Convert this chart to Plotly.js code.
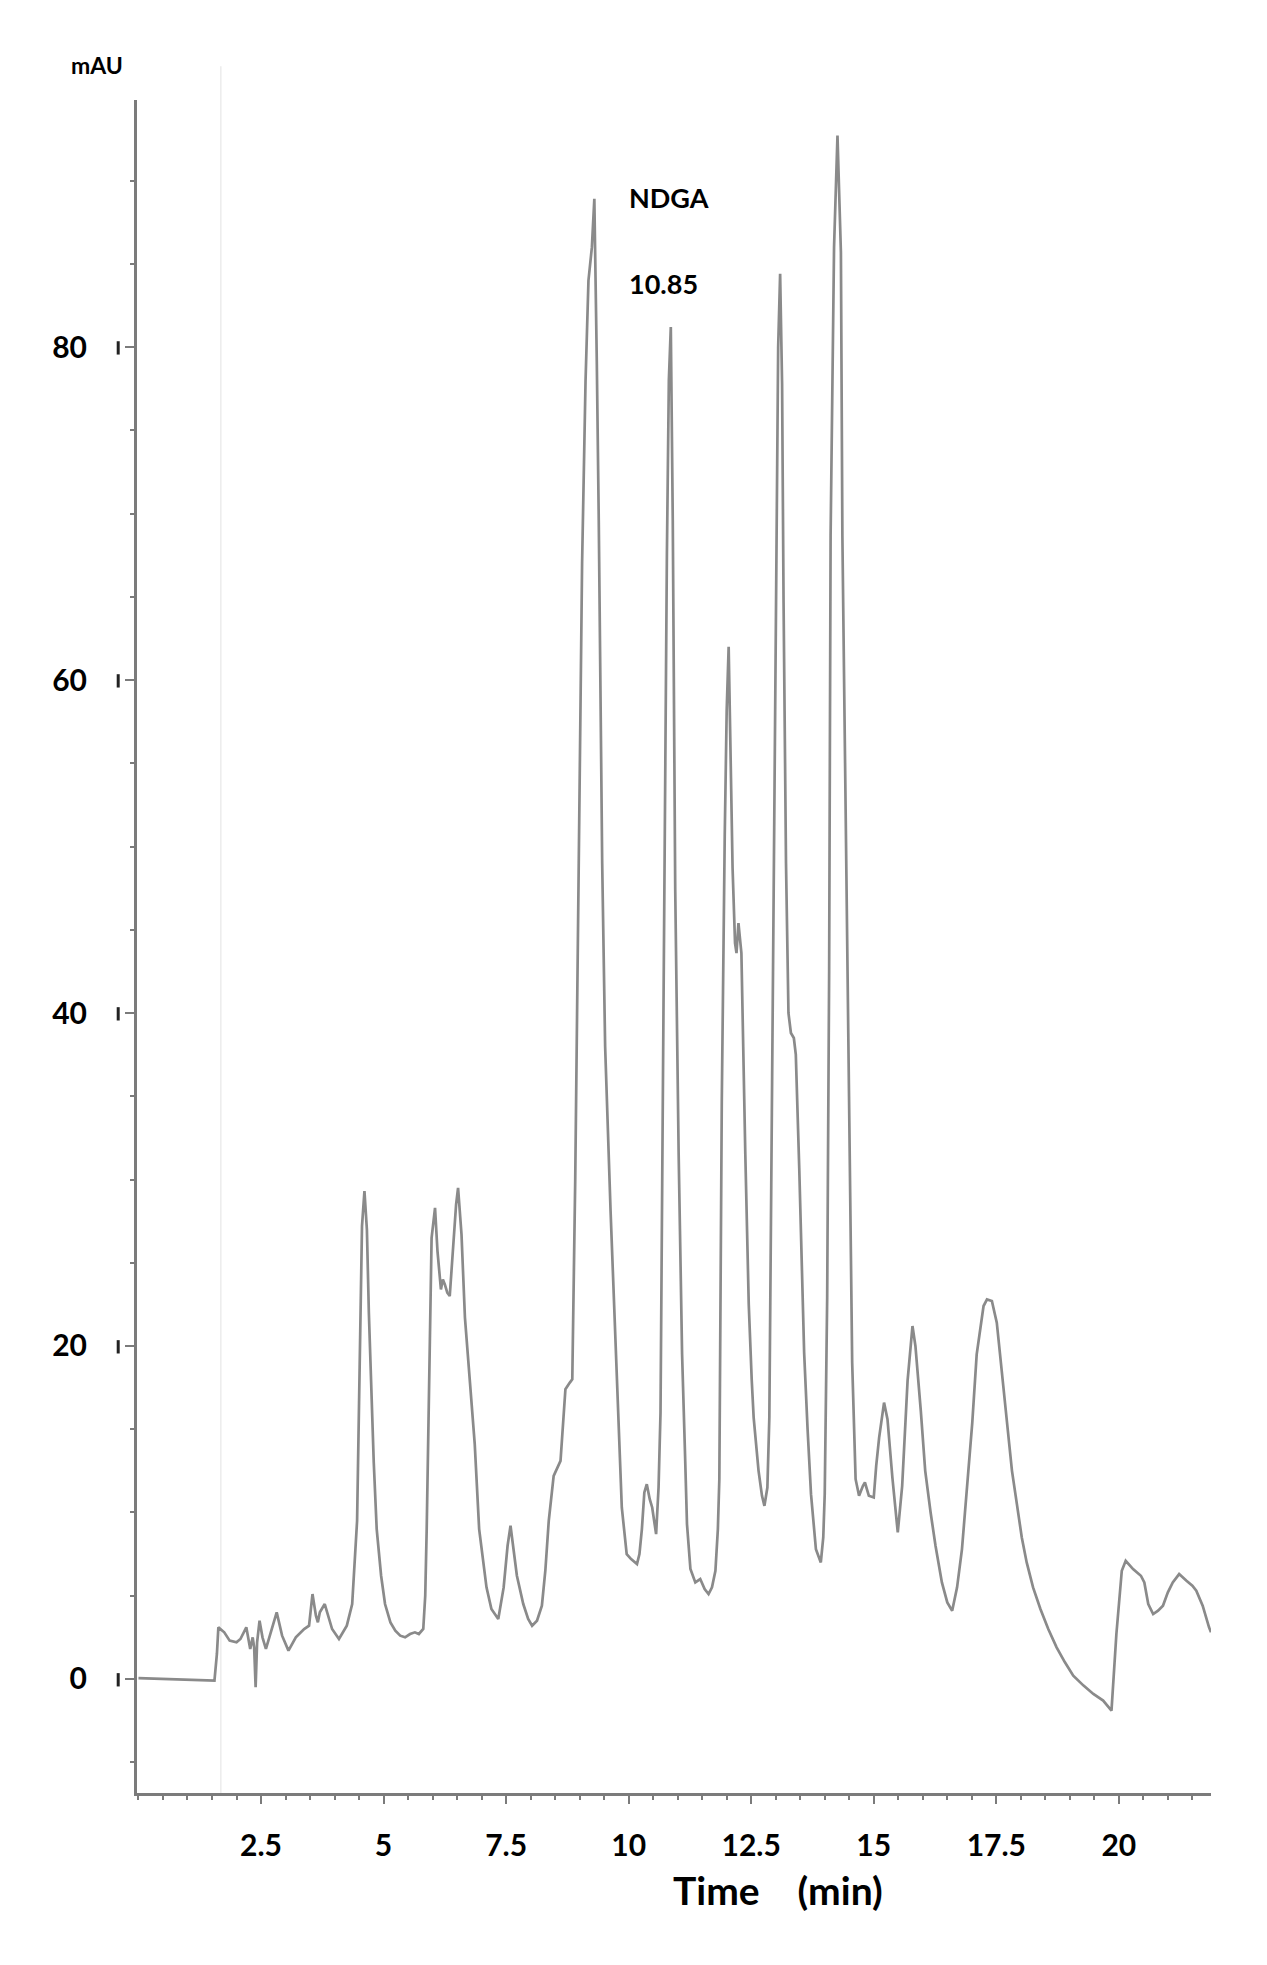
<!DOCTYPE html>
<html>
<head>
<meta charset="utf-8">
<script src="https://cdn.plot.ly/plotly-3.0.1.min.js"></script>
<style>
  html, body { margin: 0; padding: 0; background: #fff; }
  #chart { width: 1267px; height: 1965px; }
</style>
</head>
<body>
<div id="chart"></div>
<script>
  // chromatogram (time in min, absorbance in mAU)
  var timeMin = [
    0.00, 0.50, 1.00, 1.55, 1.60, 1.63, 1.75, 1.86, 2.00, 2.08, 2.20, 2.28, 2.33, 2.36, 2.39, 2.42, 2.47, 2.53, 2.60, 2.70,
    2.82, 2.93, 3.06, 3.21, 3.38, 3.48, 3.55, 3.62, 3.66, 3.70, 3.80, 3.95, 4.09, 4.25, 4.36, 4.46, 4.50, 4.53, 4.56, 4.61,
    4.66, 4.70, 4.73, 4.80, 4.86, 4.95, 5.03, 5.14, 5.24, 5.34, 5.44, 5.54, 5.64, 5.72, 5.81, 5.85, 5.88, 5.92, 5.95, 5.98,
    6.05, 6.10, 6.17, 6.21, 6.25, 6.30, 6.35, 6.42, 6.48, 6.52, 6.59, 6.66, 6.75, 6.86, 6.95, 7.01, 7.10, 7.20, 7.34, 7.45,
    7.53, 7.59, 7.65, 7.72, 7.85, 7.95, 8.03, 8.13, 8.23, 8.30, 8.37, 8.47, 8.61, 8.66, 8.71, 8.80, 8.85, 8.91, 8.98, 9.05,
    9.12, 9.18, 9.25, 9.30, 9.35, 9.39, 9.46, 9.52, 9.63, 9.73, 9.80, 9.86, 9.96, 10.05, 10.17, 10.22, 10.27, 10.32, 10.37, 10.43,
    10.48, 10.53, 10.56, 10.61, 10.65, 10.71, 10.75, 10.78, 10.82, 10.86, 10.90, 10.95, 11.02, 11.09, 11.15, 11.19, 11.26, 11.36, 11.46, 11.55,
    11.63, 11.70, 11.77, 11.82, 11.85, 11.90, 11.96, 12.00, 12.04, 12.07, 12.12, 12.17, 12.20, 12.24, 12.30, 12.38, 12.45, 12.51, 12.55, 12.65,
    12.72, 12.77, 12.83, 12.87, 12.92, 12.97, 13.02, 13.05, 13.09, 13.13, 13.16, 13.21, 13.26, 13.31, 13.37, 13.41, 13.48, 13.58, 13.65, 13.72,
    13.82, 13.92, 13.97, 14.00, 14.05, 14.09, 14.12, 14.19, 14.26, 14.33, 14.36, 14.43, 14.50, 14.56, 14.63, 14.70, 14.78, 14.82, 14.90, 15.00,
    15.05, 15.11, 15.21, 15.28, 15.38, 15.49, 15.58, 15.69, 15.79, 15.85, 15.96, 16.05, 16.16, 16.26, 16.39, 16.50, 16.60, 16.70, 16.80, 16.93,
    17.01, 17.10, 17.17, 17.24, 17.31, 17.41, 17.51, 17.61, 17.72, 17.82, 17.92, 18.02, 18.12, 18.25, 18.40, 18.56, 18.73, 18.90, 19.07, 19.28,
    19.48, 19.68, 19.85, 19.95, 20.06, 20.14, 20.29, 20.45, 20.52, 20.60, 20.70, 20.80, 20.90, 21.00, 21.10, 21.23, 21.38, 21.50, 21.58, 21.71,
    21.84, 21.88
  ];
  var signalMAU = [
    0.05, 0.0, -0.05, -0.1, 1.5, 3.1, 2.8, 2.3, 2.2, 2.4, 3.1, 1.8, 2.5, 1.9, -0.5, 2.2, 3.5, 2.5, 1.8, 2.8,
    4.0, 2.6, 1.7, 2.5, 3.0, 3.2, 5.1, 3.8, 3.4, 4.0, 4.5, 3.0, 2.4, 3.2, 4.5, 9.5, 16.0, 21.7, 27.2, 29.3,
    27.0, 22.0, 19.1, 13.0, 9.0, 6.2, 4.5, 3.4, 2.9, 2.6, 2.5, 2.7, 2.8, 2.7, 3.0, 5.0, 9.0, 17.0, 22.0, 26.5,
    28.3, 25.7, 23.4, 24.0, 23.7, 23.2, 23.0, 26.0, 28.5, 29.5, 26.7, 21.7, 18.0, 14.1, 9.0, 7.5, 5.5, 4.2, 3.6, 5.5,
    8.0, 9.2, 7.8, 6.2, 4.5, 3.6, 3.2, 3.5, 4.4, 6.5, 9.5, 12.2, 13.1, 15.5, 17.4, 17.8, 18.0, 30.0, 50.6, 67.0,
    77.9, 84.0, 86.0, 88.9, 79.1, 69.6, 49.0, 38.0, 28.2, 20.0, 14.6, 10.3, 7.5, 7.2, 6.9, 7.5, 9.0, 11.2, 11.7, 10.8,
    10.3, 9.2, 8.7, 11.5, 16.0, 40.0, 60.0, 67.5, 78.0, 81.2, 69.6, 47.4, 31.5, 19.5, 13.5, 9.3, 6.6, 5.8, 6.0, 5.4,
    5.1, 5.5, 6.5, 9.0, 12.0, 34.7, 50.6, 58.2, 62.0, 56.3, 48.7, 44.2, 43.6, 45.4, 43.6, 31.5, 22.5, 18.0, 15.7, 12.5,
    11.0, 10.4, 11.5, 15.7, 34.7, 55.0, 72.0, 80.0, 84.4, 77.8, 64.7, 49.0, 40.0, 38.8, 38.5, 37.5, 30.7, 19.6, 15.0, 11.1,
    7.8, 7.0, 8.5, 11.1, 22.9, 42.5, 68.7, 86.0, 92.7, 85.7, 68.7, 52.3, 32.7, 19.0, 12.0, 11.0, 11.6, 11.8, 11.0, 10.9,
    12.8, 14.5, 16.6, 15.6, 12.1, 8.8, 11.6, 17.9, 21.2, 20.0, 16.1, 12.5, 10.0, 8.0, 5.8, 4.6, 4.1, 5.5, 7.8, 12.5,
    15.4, 19.5, 21.0, 22.4, 22.8, 22.7, 21.4, 18.5, 15.5, 12.5, 10.5, 8.5, 7.0, 5.5, 4.2, 3.0, 1.9, 1.0, 0.2, -0.4,
    -0.9, -1.3, -1.9, 2.7, 6.5, 7.1, 6.6, 6.2, 5.8, 4.5, 3.9, 4.1, 4.4, 5.2, 5.8, 6.3, 5.9, 5.6, 5.3, 4.4,
    3.1, 2.8
  ];

  var xTicks = [2.5, 5, 7.5, 10, 12.5, 15, 17.5, 20];
  var yTicks = [0, 20, 40, 60, 80];
  var injectionMark = 1.68;            // faint vertical marker line
  var peakLabel = ["NDGA", "10.85"];
  var xTitle = "Time\u00a0\u00a0\u00a0\u00a0(min)";

  var FONT = "Lato, 'Open Sans', sans-serif";
  var AXIS = "#7b7b7b";

  // small dark bars just left of each major y tick
  var shapes = yTicks.map(function (v) {
    return {
      type: "line", xref: "paper", yref: "y",
      x0: -0.0175, x1: -0.0175, y0: v - 0.45, y1: v + 0.35,
      line: { color: "#222", width: 3 }
    };
  });
  shapes.push({
    type: "line", xref: "x", yref: "paper",
    x0: injectionMark, x1: injectionMark, y0: 0, y1: 1.02,
    line: { color: "#ececec", width: 1.5 }, layer: "below"
  });

  Plotly.newPlot("chart", [{
    x: timeMin, y: signalMAU, type: "scatter", mode: "lines",
    line: { color: "#8a8a8a", width: 2.7 },
    hoverinfo: "skip"
  }], {
    width: 1267, height: 1965,
    margin: { l: 137, r: 56, t: 100, b: 172 },
    paper_bgcolor: "#fff", plot_bgcolor: "#fff",
    showlegend: false,
    font: { family: FONT, color: "#000" },
    xaxis: {
      range: [-0.03, 21.88],
      tickvals: xTicks, ticktext: xTicks.map(String),
      ticks: "outside", ticklen: 8, tickwidth: 2, tickcolor: AXIS,
      minor: { dtick: 0.5, tick0: 0, ticks: "outside", ticklen: 4, tickwidth: 2, tickcolor: AXIS },
      showline: true, linecolor: AXIS, linewidth: 3,
      showgrid: false, zeroline: false,
      tickfont: { family: FONT, size: 30, weight: 700, color: "#000" },
      ticklabelstandoff: 16
    },
    yaxis: {
      range: [-6.85, 94.84],
      tickvals: yTicks, ticktext: yTicks.map(String),
      ticks: "outside", ticklen: 9, tickwidth: 2, tickcolor: AXIS,
      minor: { dtick: 5, tick0: 0, ticks: "outside", ticklen: 4, tickwidth: 2, tickcolor: AXIS },
      showline: true, linecolor: AXIS, linewidth: 3,
      showgrid: false, zeroline: false,
      tickfont: { family: FONT, size: 30, weight: 700, color: "#000" },
      ticklabelstandoff: 32
    },
    shapes: shapes,
    annotations: [
      { xref: "paper", yref: "paper", x: -0.037, y: 1.0207, text: "mAU", showarrow: false,
        xanchor: "center", yanchor: "middle", font: { family: FONT, size: 23, weight: 700, color: "#000" } },
      { xref: "x", yref: "y", x: 9.96, y: 89.0, text: peakLabel[0], showarrow: false,
        xanchor: "left", yanchor: "middle", font: { family: FONT, size: 27, weight: 700, color: "#000" } },
      { xref: "x", yref: "y", x: 9.96, y: 83.8, text: peakLabel[1], showarrow: false,
        xanchor: "left", yanchor: "middle", font: { family: FONT, size: 27, weight: 700, color: "#000" } },
      { xref: "paper", yref: "paper", x: 0.597, y: -0.0573, text: xTitle, showarrow: false,
        xanchor: "center", yanchor: "middle", font: { family: FONT, size: 39, weight: 700, color: "#000" } }
    ]
  }, { displayModeBar: false, staticPlot: true });
</script>
</body>
</html>
